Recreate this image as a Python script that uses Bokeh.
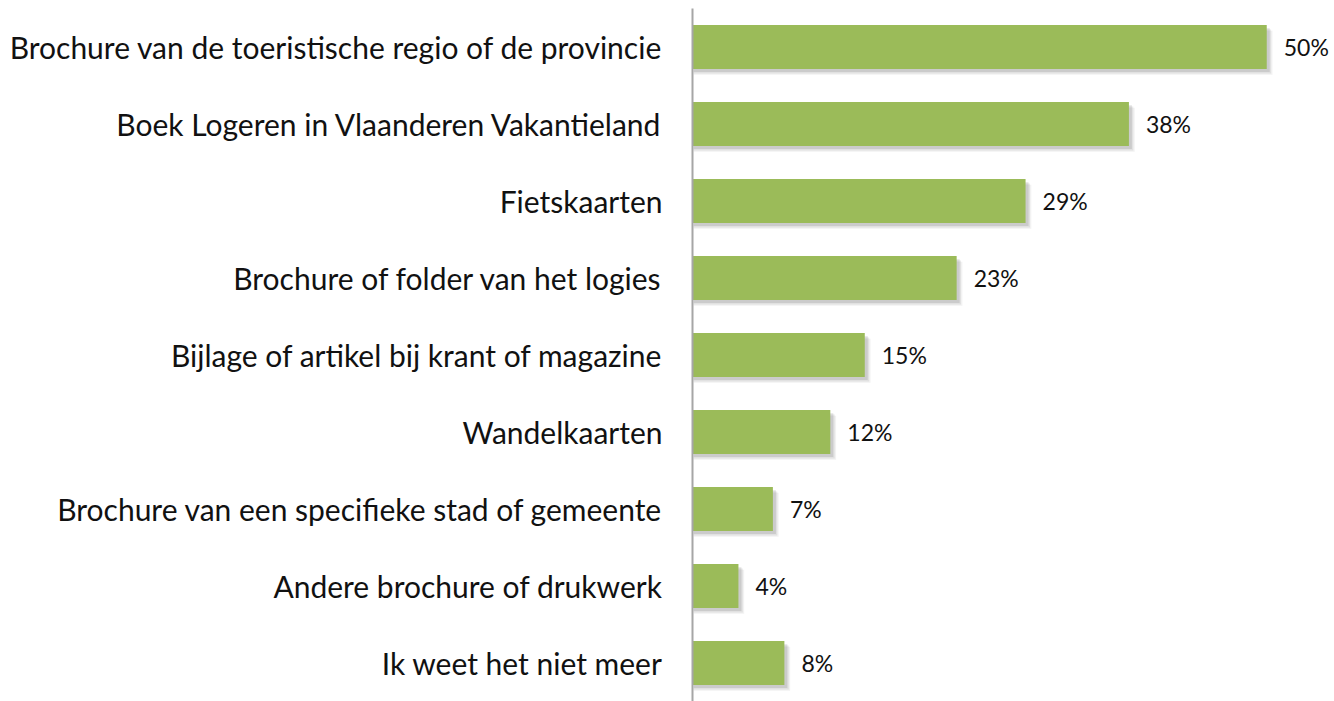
from bokeh.plotting import figure
from bokeh.models import ColumnDataSource, FactorRange, Range1d
from bokeh.transform import dodge
from bokeh.core.properties import value
from bokeh.embed import file_html
from bokeh.resources import INLINE

categories = [
    "Brochure van de toeristische regio of de provincie",
    "Boek Logeren in Vlaanderen Vakantieland",
    "Fietskaarten",
    "Brochure of folder van het logies",
    "Bijlage of artikel bij krant of magazine",
    "Wandelkaarten",
    "Brochure van een specifieke stad of gemeente",
    "Andere brochure of drukwerk",
    "Ik weet het niet meer",
]
values = [50, 38, 29, 23, 15, 12, 7, 4, 8]
labels = [f"{v}%" for v in values]

source = ColumnDataSource(dict(cat=categories, val=values, lab=labels))

FONT = "Lato"

p = figure(
    width=1334, height=701,
    y_range=FactorRange(factors=list(reversed(categories))),
    x_range=Range1d(0, 55.9),
    output_backend="svg", toolbar_location=None,
    min_border_left=692, min_border_right=0, min_border_top=8, min_border_bottom=0,
)
p.outline_line_color = None
p.grid.visible = False
p.xaxis.visible = False

# soft shadow layers
for dx, dy, a in [(0.5, -0.075, 0.10), (0.38, -0.058, 0.15), (0.26, -0.04, 0.22)]:
    p.hbar(y=dodge("cat", dy, range=p.y_range), left=0.1,
           right=dodge("val", dx, range=p.x_range), height=0.57, source=source,
           fill_color="#7f7f7f", fill_alpha=a, line_color=None)

p.hbar(y="cat", left=0, right="val", height=0.57, source=source,
       fill_color="#9BBB59", line_color=None)

p.text(x="val", y="cat", text="lab", source=source, x_offset=17,
       text_baseline="middle", text_align="left",
       text_font=value(FONT), text_font_size="23px", text_color="#111111")

yax = p.yaxis[0]
yax.axis_line_color = "#a6a6a6"
yax.axis_line_width = 2
yax.major_tick_line_color = None
yax.minor_tick_line_color = None
yax.major_label_standoff = 24
yax.major_label_text_font = FONT
yax.major_label_text_font_size = "30px"
yax.major_label_text_color = "#111111"

open("out.html", "w").write(file_html(p, INLINE))
